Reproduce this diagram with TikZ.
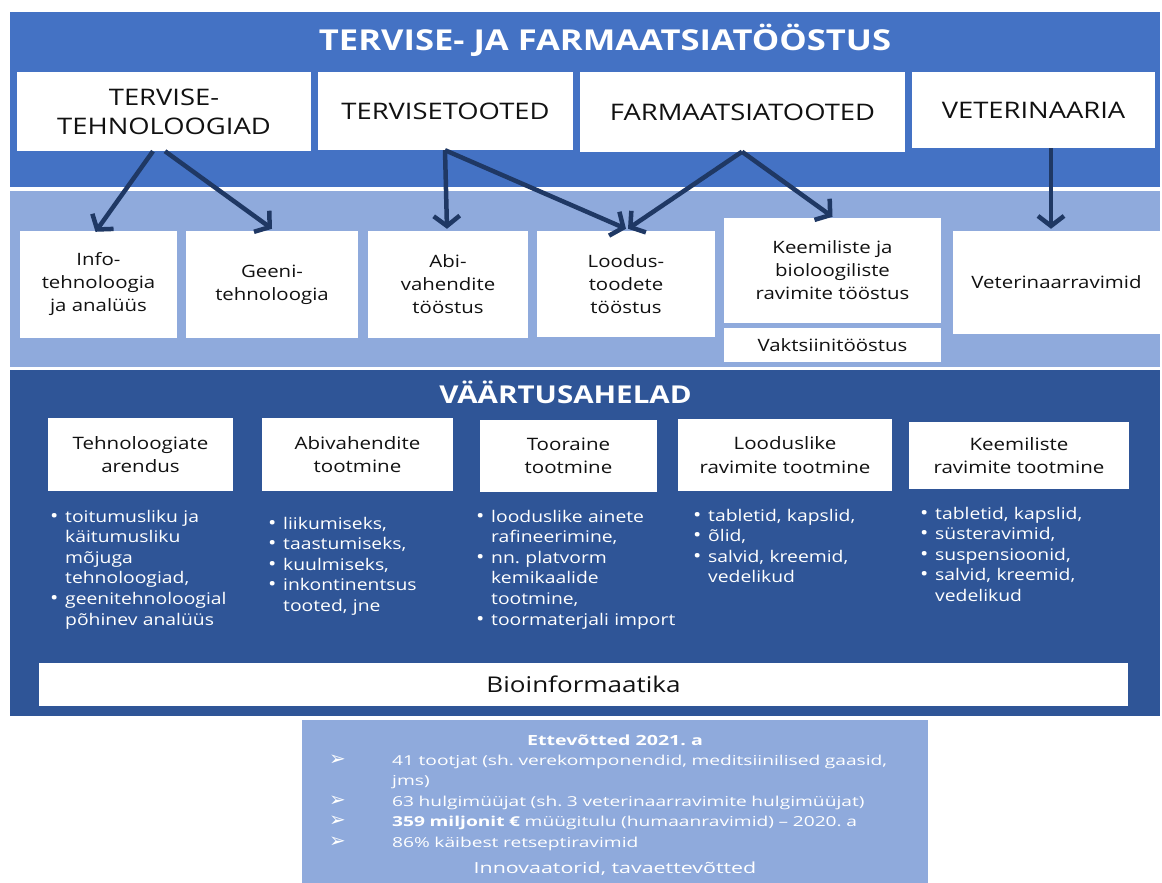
\documentclass[tikz,border=0pt]{standalone}
\usepackage{fontspec}
\setmainfont[FakeStretch=1.2]{Open Sans}
\newfontfamily\widefont[FakeStretch=1.4]{Open Sans}
\newfontfamily\symfont{DejaVu Sans}
\usetikzlibrary{arrows.meta}
\frenchspacing

\definecolor{bandmid}{HTML}{4472C4}
\definecolor{bandlight}{HTML}{8FAADC}
\definecolor{banddark}{HTML}{2F5597}
\definecolor{arrowcol}{HTML}{1F3864}
\definecolor{boxtext}{HTML}{111111}

% bullet item with hanging indent; \newline keeps the indent on wrapped lines,
% the closing \par ends the paragraph while the indent is still in force
\newcommand\bitem[1]{\hangindent=15pt\hangafter=1\noindent\makebox[15pt][l]{\scalebox{1.15}{•}}#1\par}
% arrow-bullet item for the company figures
\newcommand\aitem[1]{\hangindent=63pt\hangafter=1\noindent\makebox[63pt][l]{\symfont\scalebox{1.45}{➢}}#1\par}

\tikzset{
  wbox/.style={fill=white, draw=none, inner sep=0pt, align=center, text=boxtext},
  toptitle/.style={text=white, inner sep=0pt, font=\fontsize{28.8}{32}\selectfont\bfseries},
  topbox/.style={wbox, font=\fontsize{22.8}{29}\selectfont},
  midbox/.style={wbox, font=\fontsize{17}{23}\selectfont},
  chainbox/.style={wbox, font=\fontsize{17.1}{23.5}\selectfont},
  bulletlist/.style={text=white, inner sep=0pt, anchor=base west, align=left,
    font=\fontsize{16.1}{20.6}\selectfont},
  conn/.style={draw=arrowcol, line width=4.5pt,
    -{Straight Barb[length=10pt,width=26pt]}},
}

\begin{document}
\begin{tikzpicture}[x=1pt,y=-1pt]
\useasboundingbox (0,0) rectangle (1162,883);
\fill[white] (0,0) rectangle (1162,883);

% background bands
\fill[bandmid]   (10,12)  rectangle (1160,187);
\fill[bandlight] (10,191) rectangle (1160,367);
\fill[banddark]  (10,370) rectangle (1160,716);

% sector title and main groups
\node[toptitle] (title) at (605,40) {TERVISE- JA FARMAATSIATÖÖSTUS};
\node[topbox, minimum width=294pt, minimum height=79pt] (t1) at (164,111.5) {TERVISE-\\TEHNOLOOGIAD};
\node[topbox, minimum width=255pt, minimum height=78pt] (t2) at (445.5,111) {TERVISETOOTED};
\node[topbox, minimum width=325pt, minimum height=79pt] (t3) at (742.5,112) {FARMAATSIATOOTED};
\node[topbox, minimum width=243pt, minimum height=76pt] (t4) at (1033.5,110) {VETERINAARIA};

% sub-industries
\node[midbox, minimum width=157pt, minimum height=107pt] (info) at (98.5,284.5) {Info-\\tehnoloogia\\ja analüüs};
\node[midbox, minimum width=172pt, minimum height=107pt] (geeni) at (272,284.5) {Geeni-\\tehnoloogia};
\node[midbox, minimum width=160pt, minimum height=107pt] (abi) at (448,284.5) {Abi-\\vahendite\\tööstus};
\node[midbox, minimum width=178pt, minimum height=106pt] (loodus) at (626,284) {Loodus-\\toodete\\tööstus};
\node[midbox, minimum width=217pt, minimum height=105pt] (keem) at (832.5,270.5) {Keemiliste ja\\bioloogiliste\\ravimite tööstus};
\node[midbox, minimum width=217pt, minimum height=34pt] (vakt) at (832.5,345) {Vaktsiinitööstus};
\node[midbox, minimum width=207pt, minimum height=103pt] (vet) at (1056.5,282.5) {Veterinaarravimid};

% connectors
\draw[conn] ([xshift=-11pt]t1.south) -- ([xshift=-3pt,yshift=-1pt]info.north);
\draw[conn] ([xshift=1pt]t1.south) -- ([yshift=2pt]geeni.north);
\draw[conn] ([xshift=-0.5pt]t2.south) -- ([xshift=-1pt,yshift=2pt]abi.north);
\draw[conn] ([xshift=-0.5pt]t2.south) -- ([yshift=2pt]loodus.north);
\draw[conn] ([xshift=-0.5pt]t3.south) -- ([xshift=2pt,yshift=2pt]loodus.north);
\draw[conn] ([xshift=-0.5pt]t3.south) -- ([yshift=1pt]keem.north);
\draw[conn] ([xshift=17.5pt]t4.south) -- ([xshift=-5.5pt,yshift=2pt]vet.north);

% value chains
\node[toptitle, font=\fontsize{24.6}{30}\selectfont\bfseries] (chains) at (565.5,392) {VÄÄRTUSAHELAD};
\node[chainbox, minimum width=185pt, minimum height=73pt] (va1) at (140.5,454.5) {Tehnoloogiate\\arendus};
\node[chainbox, minimum width=191pt, minimum height=73pt] (va2) at (357.5,454.5) {Abivahendite\\tootmine};
\node[chainbox, minimum width=177pt, minimum height=72pt] (va3) at (568.5,456) {Tooraine\\tootmine};
\node[chainbox, minimum width=214pt, minimum height=72pt] (va4) at (785,455) {Looduslike\\ravimite tootmine};
\node[chainbox, minimum width=220pt, minimum height=67pt] (va5) at (1019,455.5) {Keemiliste\\ravimite tootmine};

\node[bulletlist, text width=210pt] (l1) at (50,522) {%
  \bitem{toitumusliku ja\newline käitumusliku\newline mõjuga\newline tehnoloogiad,}%
  \bitem{geenitehnoloogial\newline põhinev analüüs}};
\node[bulletlist, text width=200pt] (l2) at (268,529) {%
  \bitem{liikumiseks,}\bitem{taastumiseks,}\bitem{kuulmiseks,}%
  \bitem{inkontinentsus\newline tooted, jne}};
\node[bulletlist, text width=210pt] (l3) at (476,522) {%
  \bitem{looduslike ainete\newline rafineerimine,}%
  \bitem{nn. platvorm\newline kemikaalide\newline tootmine,}%
  \bitem{toormaterjali import}};
\node[bulletlist, text width=210pt] (l4) at (693,521) {%
  \bitem{tabletid, kapslid,}\bitem{õlid,}%
  \bitem{salvid, kreemid,\newline vedelikud}};
\node[bulletlist, text width=210pt] (l5) at (920,519) {%
  \bitem{tabletid, kapslid,}\bitem{süsteravimid,}\bitem{suspensioonid,}%
  \bitem{salvid, kreemid,\newline vedelikud}};

\node[wbox, minimum width=1089pt, minimum height=43pt, font=\fontsize{21.7}{24}\selectfont] (bio) at (583.5,684.5) {Bioinformaatika};

% company figures
\node[fill=bandlight, inner sep=0pt, minimum width=626pt, minimum height=166pt] (firms) at (615,803) {};
\node[text=white, inner sep=0pt, font=\widefont\fontsize{14}{20}\selectfont\bfseries] (firmstitle) at (615,740) {Ettevõtted 2021. a};
\node[text=white, inner sep=0pt, anchor=base west, align=left, text width=590pt,
      font=\widefont\fontsize{13.7}{20.6}\selectfont] (firmslist) at (329,765) {%
  \aitem{41 tootjat (sh. verekomponendid, meditsiinilised gaasid,\newline jms)}%
  \aitem{63 hulgimüüjat (sh. 3 veterinaarravimite hulgimüüjat)}%
  \aitem{\textbf{359 miljonit €} müügitulu (humaanravimid) – 2020. a}%
  \aitem{86\% käibest retseptiravimid}};
\node[text=white, inner sep=0pt, font=\widefont\fontsize{15.3}{20}\selectfont] (firmsnote) at (615,869) {Innovaatorid, tavaettevõtted};
\end{tikzpicture}
\end{document}
